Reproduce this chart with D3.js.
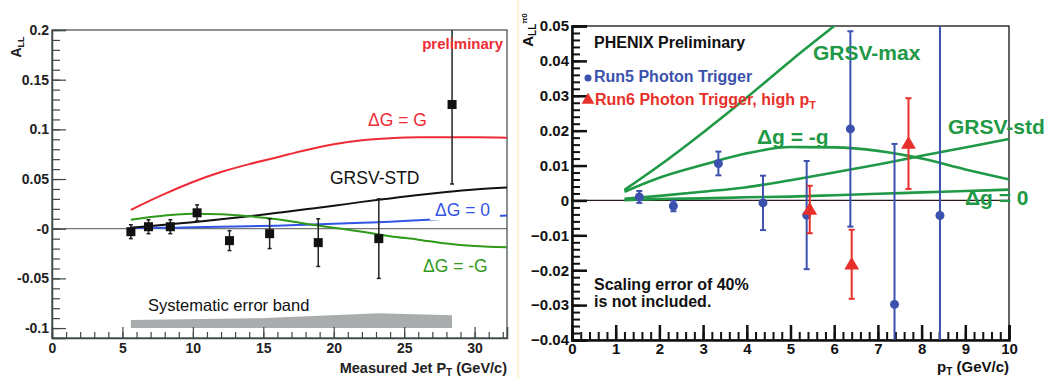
<!DOCTYPE html>
<html>
<head>
<meta charset="utf-8">
<script src="https://cdn.jsdelivr.net/npm/d3@7"></script>
<style>
  body { margin: 0; background: #fff; }
  svg { font-family: "Liberation Sans", Arial, sans-serif; }
</style>
</head>
<body>
<div class="chart"></div>
<script>
// ---- left panel data (jet A_LL)
var jetPt = [5.6, 6.85, 8.4, 10.3, 12.6, 15.45, 18.9, 23.2, 28.4];
var jetAll = [-0.003, 0.002, 0.002, 0.016, -0.012, -0.005, -0.014, -0.010, 0.125];
var jetErr = [0.007, 0.007, 0.007, 0.008, 0.010, 0.015, 0.024, 0.040, 0.080];

var jetCurvePt = [5.6, 8, 10, 12, 14, 16, 18, 20, 22, 24, 26, 28, 30, 32.3];
var dgEqG = [0.019, 0.035, 0.047, 0.057, 0.065, 0.072, 0.079, 0.085, 0.089, 0.091, 0.092, 0.092, 0.092, 0.0915];
var grsvStdJet = [0.001, 0.004, 0.0065, 0.0095, 0.0125, 0.016, 0.0195, 0.023, 0.027, 0.0305, 0.034, 0.037, 0.0395, 0.0415];
var dgZeroJet = [0.001, 0.001, 0.0015, 0.002, 0.0025, 0.003, 0.004, 0.005, 0.006, 0.007, 0.0085, 0.010, 0.0115, 0.0133];
var dgMinusGJet = [0.009, 0.0133, 0.015, 0.0145, 0.0125, 0.0095, 0.005, 0.001, -0.003, -0.0075, -0.011, -0.015, -0.0175, -0.0187];

var bandPt = [5.6, 14.75, 23.2, 28.4];
var bandHi = [-0.092, -0.090, -0.085, -0.087];
var bandLo = [-0.100, -0.100, -0.100, -0.100];

var leftYTicks = [-0.1, -0.05, 0, 0.05, 0.1, 0.15, 0.2];
var leftYLabels = ["-0.1", "-0.05", "-0", "0.05", "0.1", "0.15", "0.2"];
var leftXTicks = [0, 5, 10, 15, 20, 25, 30];

// ---- right panel data (pi0 A_LL)
var run5Pt = [1.54, 2.32, 3.35, 4.37, 5.37, 6.37, 7.38, 8.42];
var run5All = [0.001, -0.0016, 0.0106, -0.0007, -0.0042, 0.0205, -0.0298, -0.0043];
var run5Err = [0.0017, 0.0015, 0.0034, 0.0078, 0.0155, 0.028, 0.046, 0.060];

var run6Pt = [5.44, 6.4, 7.7];
var run6All = [-0.0026, -0.0183, 0.0163];
var run6Err = [0.0068, 0.0099, 0.013];

var thPt = [1.2, 2, 3, 4, 5, 6, 7, 8, 9, 10];
var grsvMax = [0.003, 0.010, 0.0195, 0.0295, 0.040, 0.050, 0.060, 0.070, 0.080, 0.090];
var dgMinusG = [0.0025, 0.0065, 0.0102, 0.0135, 0.0153, 0.0152, 0.0142, 0.012, 0.0089, 0.006];
var grsvStd = [0.0005, 0.0013, 0.0025, 0.0038, 0.0058, 0.008, 0.0103, 0.0128, 0.0152, 0.0176];
var dgZero = [0.0001, 0.0004, 0.0006, 0.0009, 0.0011, 0.0015, 0.0019, 0.0023, 0.0027, 0.0031];

var rightYTicks = [-0.04, -0.03, -0.02, -0.01, 0, 0.01, 0.02, 0.03, 0.04, 0.05];
var rightXTicks = [0, 1, 2, 3, 4, 5, 6, 7, 8, 9, 10];

var svg = d3.select(".chart").append("svg")
  .attr("width", 1050)
  .attr("height", 378);

// separator between the two pictures
svg.append("line")
  .attr("x1", 518).attr("x2", 518).attr("y1", 0).attr("y2", 378)
  .attr("stroke", "#f3e8a4").attr("stroke-width", 1);

var defs = svg.append("defs");

// ================= LEFT PANEL =================
var L = {left: 52, right: 507, top: 30, bottom: 338};
var xL = d3.scaleLinear().domain([0, 32.3]).range([L.left, L.right]);
var yL = d3.scaleLinear().domain([-0.11, 0.2]).range([L.bottom, L.top]);
var axisGrey = "#3f4848";

defs.append("clipPath").attr("id", "clipL").append("rect")
  .attr("x", L.left).attr("y", L.top)
  .attr("width", L.right - L.left).attr("height", L.bottom - L.top);

var gl = svg.append("g");

// frame
gl.append("rect")
  .attr("x", L.left).attr("y", L.top)
  .attr("width", L.right - L.left).attr("height", L.bottom - L.top)
  .attr("fill", "none").attr("stroke", axisGrey).attr("stroke-width", 1.2);

// zero line
gl.append("line")
  .attr("x1", L.left).attr("x2", L.right)
  .attr("y1", yL(0)).attr("y2", yL(0))
  .attr("stroke", "#555").attr("stroke-width", 1);

// systematic band
var bandArea = d3.area()
  .x(function(d, i) { return xL(bandPt[i]); })
  .y0(function(d, i) { return yL(bandLo[i]); })
  .y1(function(d, i) { return yL(bandHi[i]); });
gl.append("path")
  .datum(bandPt)
  .attr("d", bandArea)
  .attr("fill", "#a9adad");

// axes
var yMinorL = d3.range(-10, 21).map(function(v) { return v / 100; });
gl.append("g")
  .attr("transform", "translate(" + L.left + ",0)")
  .call(d3.axisLeft(yL).tickValues(yMinorL).tickSize(-8).tickFormat(""))
  .call(function(g) { g.select(".domain").remove(); })
  .selectAll("line").attr("stroke", axisGrey).attr("stroke-width", 1.2);

var yAxL = gl.append("g")
  .attr("transform", "translate(" + L.left + ",0)")
  .call(d3.axisLeft(yL).tickValues(leftYTicks).tickSize(-14)
    .tickFormat(function(d, i) { return leftYLabels[i]; }));
yAxL.select(".domain").attr("stroke", axisGrey).attr("stroke-width", 1.5);
yAxL.selectAll("line").attr("stroke", axisGrey).attr("stroke-width", 1.2);
yAxL.selectAll("text")
  .attr("x", -3)
  .style("font-size", "14px").style("font-weight", "bold").attr("fill", "#222")
  .style("font-family", "'Liberation Sans', Arial, sans-serif");

var xMinorL = d3.range(0, 33);
gl.append("g")
  .attr("transform", "translate(0," + L.bottom + ")")
  .call(d3.axisBottom(xL).tickValues(xMinorL).tickSize(-6).tickFormat(""))
  .call(function(g) { g.select(".domain").remove(); })
  .selectAll("line").attr("stroke", axisGrey).attr("stroke-width", 1.2);

var xAxL = gl.append("g")
  .attr("transform", "translate(0," + L.bottom + ")")
  .call(d3.axisBottom(xL).tickValues(leftXTicks).tickSize(-11).tickFormat(d3.format("d")));
xAxL.select(".domain").attr("stroke", axisGrey).attr("stroke-width", 1.5);
xAxL.selectAll("line").attr("stroke", axisGrey).attr("stroke-width", 1.2);
xAxL.selectAll("text")
  .attr("y", 5)
  .style("font-size", "14px").style("font-weight", "bold").attr("fill", "#222")
  .style("font-family", "'Liberation Sans', Arial, sans-serif");

// theory curves
var lineL = function(vals) {
  return d3.line()
    .x(function(d, i) { return xL(jetCurvePt[i]); })
    .y(function(d) { return yL(d); })
    .curve(d3.curveMonotoneX)(vals);
};
var curvesL = gl.append("g").attr("clip-path", "url(#clipL)");
curvesL.append("path").attr("d", lineL(dgZeroJet)).attr("fill", "none").attr("stroke", "#3355e6").attr("stroke-width", 2);
curvesL.append("path").attr("d", lineL(dgEqG)).attr("fill", "none").attr("stroke", "#ee2b36").attr("stroke-width", 2);
curvesL.append("path").attr("d", lineL(grsvStdJet)).attr("fill", "none").attr("stroke", "#111").attr("stroke-width", 2);
curvesL.append("path").attr("d", lineL(dgMinusGJet)).attr("fill", "none").attr("stroke", "#2f9a1a").attr("stroke-width", 2);

// data points
var ptsL = gl.append("g").attr("clip-path", "url(#clipL)");
jetPt.forEach(function(x, i) {
  var cx = xL(x);
  var top = yL(jetAll[i] + jetErr[i]);
  var bot = yL(jetAll[i] - jetErr[i]);
  ptsL.append("line").attr("x1", cx).attr("x2", cx).attr("y1", top).attr("y2", bot)
    .attr("stroke", "#222").attr("stroke-width", 1.5);
  ptsL.append("line").attr("x1", cx - 2).attr("x2", cx + 2).attr("y1", top).attr("y2", top)
    .attr("stroke", "#222").attr("stroke-width", 1.5);
  ptsL.append("line").attr("x1", cx - 2).attr("x2", cx + 2).attr("y1", bot).attr("y2", bot)
    .attr("stroke", "#222").attr("stroke-width", 1.5);
  ptsL.append("rect").attr("x", cx - 4.5).attr("y", yL(jetAll[i]) - 4.5)
    .attr("width", 9).attr("height", 9).attr("fill", "#111");
});

// labels
gl.append("text").attr("x", 503).attr("y", 49).attr("text-anchor", "end")
  .style("font-size", "15px").style("font-weight", "bold").attr("fill", "#ee2b36")
  .text("preliminary");

gl.append("text").attr("x", 368).attr("y", 126)
  .style("font-size", "17.5px").attr("fill", "#ee2b36").text("\u0394G = G");

gl.append("text").attr("x", 330).attr("y", 184)
  .style("font-size", "17.5px").attr("fill", "#111").text("GRSV-STD");

var dg0Label = gl.append("g");
dg0Label.append("rect").attr("x", 430).attr("y", 200).attr("width", 70).attr("height", 20).attr("fill", "#fff");
dg0Label.append("text").attr("x", 435).attr("y", 216)
  .style("font-size", "17.5px").attr("fill", "#3355e6").text("\u0394G = 0");

gl.append("text").attr("x", 423).attr("y", 272)
  .style("font-size", "17.5px").attr("fill", "#2f9a1a").text("\u0394G = -G");

gl.append("text").attr("x", 148).attr("y", 311)
  .style("font-size", "16.5px").attr("fill", "#111").text("Systematic error band");

var xTitleL = gl.append("text").attr("x", 507).attr("y", 373).attr("text-anchor", "end")
  .style("font-size", "14.5px").style("font-weight", "bold").attr("fill", "#222");
xTitleL.append("tspan").text("Measured Jet P");
xTitleL.append("tspan").attr("dy", 3).style("font-size", "10px").text("T");
xTitleL.append("tspan").attr("dy", -3).text(" (GeV/c)");

var yTitleL = gl.append("text")
  .attr("transform", "translate(21,47) rotate(-90)")
  .attr("text-anchor", "middle")
  .style("font-size", "14px").style("font-weight", "bold").attr("fill", "#222");
yTitleL.append("tspan").text("A");
yTitleL.append("tspan").attr("dy", 3).style("font-size", "9px").text("LL");

// ================= RIGHT PANEL =================
var R = {left: 572, right: 1009, top: 26, bottom: 340};
var xR = d3.scaleLinear().domain([0, 10]).range([R.left, R.right]);
var yR = d3.scaleLinear().domain([-0.04, 0.05]).range([R.bottom, R.top]);
var blue = "#3b51ad";
var red = "#e8302a";
var green = "#1f9946";

defs.append("clipPath").attr("id", "clipR").append("rect")
  .attr("x", R.left).attr("y", R.top)
  .attr("width", R.right - R.left).attr("height", R.bottom - R.top);

var gr = svg.append("g");

gr.append("rect")
  .attr("x", R.left).attr("y", R.top)
  .attr("width", R.right - R.left).attr("height", R.bottom - R.top)
  .attr("fill", "none").attr("stroke", "#111").attr("stroke-width", 1.3);

gr.append("line")
  .attr("x1", R.left).attr("x2", R.right)
  .attr("y1", yR(0)).attr("y2", yR(0))
  .attr("stroke", "#2a1a14").attr("stroke-width", 1.3);

// axes
var yMinorR = d3.range(-20, 26).map(function(v) { return v / 500; });
gr.append("g")
  .attr("transform", "translate(" + R.left + ",0)")
  .call(d3.axisLeft(yR).tickValues(yMinorR).tickSize(-8).tickFormat(""))
  .call(function(g) { g.select(".domain").remove(); })
  .selectAll("line").attr("stroke", "#111").attr("stroke-width", 2);

var yAxR = gr.append("g")
  .attr("transform", "translate(" + R.left + ",0)")
  .call(d3.axisLeft(yR).tickValues(rightYTicks).tickSize(-15)
    .tickFormat(function(d) { return d === 0 ? "0" : d3.format(".2f")(d); }));
yAxR.select(".domain").attr("stroke", "#111").attr("stroke-width", 2.5);
yAxR.selectAll("line").attr("stroke", "#111").attr("stroke-width", 2.5);
yAxR.selectAll("text")
  .attr("x", -3)
  .style("font-size", "15px").style("font-weight", "bold").attr("fill", "#111")
  .style("font-family", "'Liberation Sans', Arial, sans-serif");

var xMinorR = d3.range(0, 51).map(function(v) { return v / 5; });
gr.append("g")
  .attr("transform", "translate(0," + R.bottom + ")")
  .call(d3.axisBottom(xR).tickValues(xMinorR).tickSize(-8).tickFormat(""))
  .call(function(g) { g.select(".domain").remove(); })
  .selectAll("line").attr("stroke", "#111").attr("stroke-width", 2);

var xAxR = gr.append("g")
  .attr("transform", "translate(0," + R.bottom + ")")
  .call(d3.axisBottom(xR).tickValues(rightXTicks).tickSize(-15).tickFormat(d3.format("d")));
xAxR.select(".domain").attr("stroke", "#111").attr("stroke-width", 2.5);
xAxR.selectAll("line").attr("stroke", "#111").attr("stroke-width", 2.5);
xAxR.selectAll("text")
  .attr("y", 3)
  .style("font-size", "15px").style("font-weight", "bold").attr("fill", "#111")
  .style("font-family", "'Liberation Sans', Arial, sans-serif");

// theory curves
var lineR = function(vals) {
  return d3.line()
    .x(function(d, i) { return xR(thPt[i]); })
    .y(function(d) { return yR(d); })
    .curve(d3.curveMonotoneX)(vals);
};
var curvesR = gr.append("g").attr("clip-path", "url(#clipR)");
[grsvMax, dgMinusG, grsvStd, dgZero].forEach(function(vals) {
  curvesR.append("path").attr("d", lineR(vals))
    .attr("fill", "none").attr("stroke", green).attr("stroke-width", 2.6);
});

// data points
var ptsR = gr.append("g").attr("clip-path", "url(#clipR)");
function errBar(cx, v, e, col) {
  var top = yR(v + e), bot = yR(v - e);
  ptsR.append("line").attr("x1", cx).attr("x2", cx).attr("y1", top).attr("y2", bot)
    .attr("stroke", col).attr("stroke-width", 2);
  ptsR.append("line").attr("x1", cx - 3).attr("x2", cx + 3).attr("y1", top).attr("y2", top)
    .attr("stroke", col).attr("stroke-width", 2);
  ptsR.append("line").attr("x1", cx - 3).attr("x2", cx + 3).attr("y1", bot).attr("y2", bot)
    .attr("stroke", col).attr("stroke-width", 2);
}
run5Pt.forEach(function(x, i) {
  errBar(xR(x), run5All[i], run5Err[i], blue);
  ptsR.append("circle").attr("cx", xR(x)).attr("cy", yR(run5All[i])).attr("r", 4.5).attr("fill", blue);
});
var tri = d3.symbol().type(d3.symbolTriangle).size(95);
run6Pt.forEach(function(x, i) {
  errBar(xR(x), run6All[i], run6Err[i], red);
  ptsR.append("path").attr("d", tri)
    .attr("transform", "translate(" + xR(x) + "," + (yR(run6All[i]) + 1) + ")")
    .attr("fill", red);
});

// legend and labels
gr.append("text").attr("x", 594).attr("y", 48)
  .style("font-size", "16px").style("font-weight", "bold").attr("fill", "#111")
  .text("PHENIX Preliminary");

gr.append("circle").attr("cx", 588).attr("cy", 78).attr("r", 3.5).attr("fill", blue);
gr.append("text").attr("x", 594).attr("y", 82)
  .style("font-size", "16px").style("font-weight", "bold").attr("fill", blue)
  .text("Run5 Photon Trigger");

gr.append("path").attr("d", d3.symbol().type(d3.symbolTriangle).size(70))
  .attr("transform", "translate(588,100)").attr("fill", red);
var run6Text = gr.append("text").attr("x", 595).attr("y", 105)
  .style("font-size", "16px").style("font-weight", "bold").attr("fill", red);
run6Text.append("tspan").text("Run6 Photon Trigger, high p");
run6Text.append("tspan").attr("dy", 4).style("font-size", "11px").text("T");

gr.append("text").attr("x", 813).attr("y", 60)
  .style("font-size", "21px").style("font-weight", "bold").attr("fill", green).text("GRSV-max");
gr.append("text").attr("x", 757).attr("y", 144)
  .style("font-size", "21px").style("font-weight", "bold").attr("fill", green).text("\u0394g = -g");
gr.append("text").attr("x", 948).attr("y", 134)
  .style("font-size", "21px").style("font-weight", "bold").attr("fill", green).text("GRSV-std");
gr.append("text").attr("x", 965).attr("y", 205)
  .style("font-size", "21px").style("font-weight", "bold").attr("fill", green).text("\u0394g = 0");

gr.append("text").attr("x", 594).attr("y", 290)
  .style("font-size", "16px").style("font-weight", "bold").attr("fill", "#111")
  .text("Scaling error of 40%");
gr.append("text").attr("x", 594).attr("y", 307)
  .style("font-size", "16px").style("font-weight", "bold").attr("fill", "#111")
  .text("is not included.");

var xTitleR = gr.append("text").attr("x", 1009).attr("y", 372).attr("text-anchor", "end")
  .style("font-size", "15px").style("font-weight", "bold").attr("fill", "#111");
xTitleR.append("tspan").text("p");
xTitleR.append("tspan").attr("dy", 3).style("font-size", "10px").text("T");
xTitleR.append("tspan").attr("dy", -3).text(" (GeV/c)");

var yTitleR = gr.append("text")
  .attr("transform", "translate(533,30) rotate(-90)")
  .attr("text-anchor", "middle")
  .style("font-size", "15px").style("font-weight", "bold").attr("fill", "#111");
yTitleR.append("tspan").text("A");
yTitleR.append("tspan").attr("dy", 3).style("font-size", "10px").text("LL");
yTitleR.append("tspan").attr("dy", -9).style("font-size", "8px").text("\u03c00");
</script>
</body>
</html>
